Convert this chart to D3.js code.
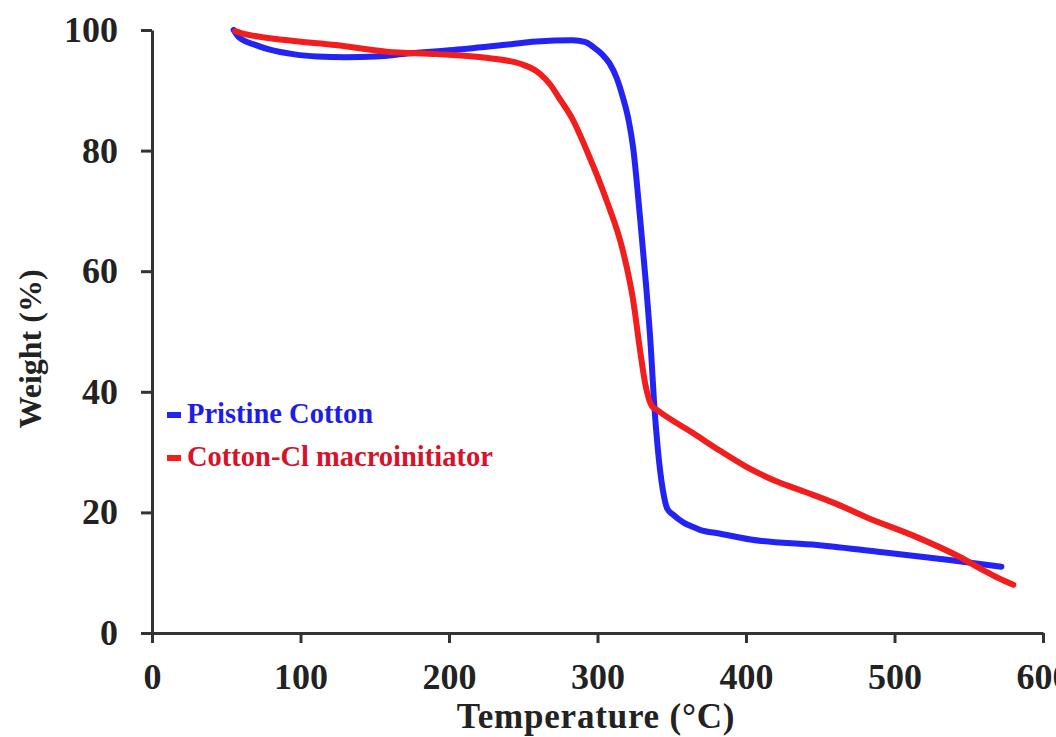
<!DOCTYPE html>
<html>
<head>
<meta charset="utf-8">
<script src="https://cdn.jsdelivr.net/npm/d3@7"></script>
<style>
  body { margin: 0; background: #fff; }
  svg { display: block; }
  text { font-family: "Liberation Serif", "Times New Roman", serif; font-weight: bold; }
</style>
</head>
<body>
<div id="chart"><svg></svg></div>
<script>
// TGA curves
var seriesNames = ["Pristine Cotton", "Cotton-Cl macroinitiator"];

var cottonTemp   = [55, 59, 70, 80, 95, 111, 130, 151, 172, 203, 236, 259, 283, 292, 297, 303, 308, 313, 317, 321, 324, 328.6, 332.6, 336, 338, 340.7, 344, 347, 351, 358, 364, 369, 382, 403, 448, 492, 537, 572];
var cottonWeight = [100, 98.7, 97.5, 96.7, 96, 95.6, 95.5, 95.6, 96.1, 96.7, 97.5, 98.1, 98.3, 98, 97.2, 96, 94.5, 92, 88.9, 85, 80.5, 69, 58, 47, 38.6, 30.3, 23.7, 20.6, 19.6, 18.3, 17.6, 17.1, 16.5, 15.5, 14.6, 13.4, 12.1, 11];

var clTemp   = [56, 60, 91, 124, 158, 192, 225, 248, 261, 268, 275, 283, 292.6, 306, 317, 324, 328.6, 332, 336.7, 340, 344, 364, 382, 400, 420, 441, 460, 481, 515, 544, 560, 570, 580];
var clWeight = [99.8, 99.5, 98.3, 97.5, 96.4, 96, 95.4, 94.4, 92.8, 91, 88.4, 85.3, 80.1, 71.8, 63.5, 55.2, 47, 41.5, 37.6, 37, 36.3, 33.2, 30.3, 27.6, 25.2, 23.3, 21.5, 19.2, 15.9, 12.6, 10.4, 9.1, 8];

var xTicks = [0, 100, 200, 300, 400, 500, 600];
var yTicks = [0, 20, 40, 60, 80, 100];
var xTitle = "Temperature (°C)";
var yTitle = "Weight (%)";

var lineColors = ["#2323f3", "#f21d1d"];
var textColors = ["#1c1ceb", "#d8122a"];

var width = 1056, height = 737;
var margin = { top: 30, right: 13, bottom: 104, left: 152 };

var svg = d3.select("#chart").select("svg")
  .attr("width", width)
  .attr("height", height);

var x = d3.scaleLinear().domain([0, 600]).range([margin.left, width - margin.right]);
var y = d3.scaleLinear().domain([0, 100]).range([height - margin.bottom, margin.top]);

// axes
var xAxis = svg.append("g")
  .attr("transform", "translate(0," + y(0) + ")")
  .call(d3.axisBottom(x).tickValues(xTicks).tickSize(10).tickSizeOuter(0).tickPadding(20).tickFormat(d3.format("d")));

var yAxis = svg.append("g")
  .attr("transform", "translate(" + x(0) + ",0)")
  .call(d3.axisLeft(y).tickValues(yTicks).tickSize(11).tickSizeOuter(0).tickPadding(23).tickFormat(d3.format("d")));

[xAxis, yAxis].forEach(function(g) {
  g.selectAll("path, line").attr("stroke", "#333").attr("stroke-width", 3);
  g.selectAll("text").attr("fill", "#222").style("font-size", "36px");
});

// curves
var line = d3.line()
  .x(function(d) { return x(d[0]); })
  .y(function(d) { return y(d[1]); })
  .curve(d3.curveMonotoneX);

var series = [
  d3.zip(cottonTemp, cottonWeight),
  d3.zip(clTemp, clWeight)
];

series.forEach(function(s, i) {
  svg.append("path")
    .datum(s)
    .attr("fill", "none")
    .attr("stroke", lineColors[i])
    .attr("stroke-width", 6)
    .attr("stroke-linecap", "round")
    .attr("d", line);
});

// legend
var legend = svg.append("g").attr("transform", "translate(165,415)");
seriesNames.forEach(function(name, i) {
  var row = legend.append("g").attr("transform", "translate(0," + (i * 43) + ")");
  row.append("rect")
    .attr("x", 2).attr("y", -3)
    .attr("width", 14).attr("height", 6)
    .attr("fill", lineColors[i]);
  row.append("text")
    .attr("x", 22).attr("y", 8)
    .attr("fill", textColors[i])
    .style("font-size", "28.5px")
    .text(name);
});

// axis titles
svg.append("text")
  .attr("x", 596)
  .attr("y", 728)
  .attr("text-anchor", "middle")
  .attr("fill", "#222")
  .style("font-size", "35px")
  .style("letter-spacing", "0.8px")
  .text(xTitle);

svg.append("text")
  .attr("transform", "translate(41,349) rotate(-90)")
  .attr("text-anchor", "middle")
  .attr("fill", "#222")
  .style("font-size", "32px")
  .text(yTitle);
</script>
</body>
</html>
